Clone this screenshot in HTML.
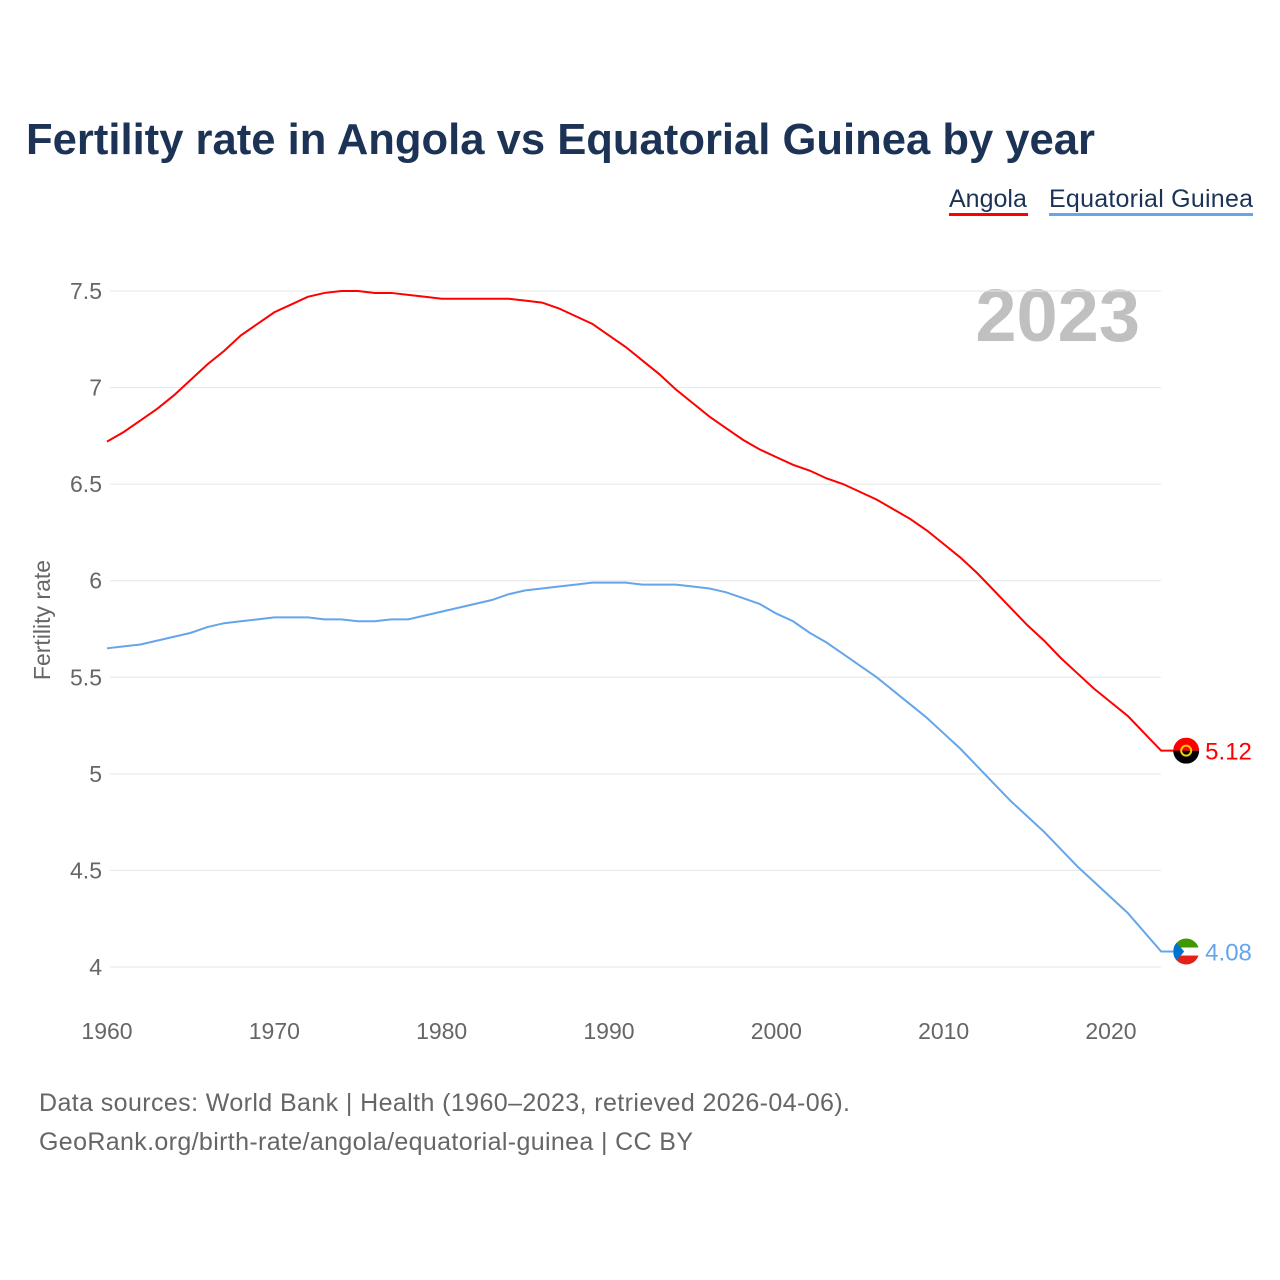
<!DOCTYPE html>
<html><head><meta charset="utf-8"><style>
body{margin:0;background:#fff;font-family:"Liberation Sans",sans-serif;}
#wrap{position:relative;width:1280px;height:1280px;overflow:hidden;}
</style></head><body>
<div id="wrap">
<svg id="chart" width="1280" height="1280" style="font-family:'Liberation Sans',sans-serif">
<text x="26" y="154" font-size="44" font-weight="bold" fill="#1c3356" textLength="1069" lengthAdjust="spacingAndGlyphs">Fertility rate in Angola vs Equatorial Guinea by year</text>
<g><text x="949" y="207" font-size="25" fill="#1c3356">Angola</text><rect x="949" y="213" width="79" height="3" fill="#f00"/></g>
<g><text x="1049" y="207" font-size="25" fill="#1c3356" textLength="204">Equatorial Guinea</text><rect x="1049" y="213" width="204" height="3" fill="#64a5eb"/></g>
<text x="1140" y="341" font-size="74" font-weight="bold" fill="#c0c0c0" text-anchor="end">2023</text>
<text transform="translate(50,620) rotate(-90)" font-size="23" fill="#666" text-anchor="middle">Fertility rate</text>
<g id="grid"></g><g id="lines"></g>
<text x="39" y="1111" font-size="25" fill="#666" textLength="811">Data sources: World Bank | Health (1960–2023, retrieved 2026-04-06).</text>
<text x="39" y="1150" font-size="25" fill="#666" textLength="654">GeoRank.org/birth-rate/angola/equatorial-guinea | CC BY</text>
</svg></div>
<script>
const years=[];for(let y=1960;y<=2023;y++)years.push(y);
const angola=[6.72,6.77,6.83,6.89,6.96,7.04,7.12,7.19,7.27,7.33,7.39,7.43,7.47,7.49,7.50,7.50,7.49,7.49,7.48,7.47,7.46,7.46,7.46,7.46,7.46,7.45,7.44,7.41,7.37,7.33,7.27,7.21,7.14,7.07,6.99,6.92,6.85,6.79,6.73,6.68,6.64,6.60,6.57,6.53,6.50,6.46,6.42,6.37,6.32,6.26,6.19,6.12,6.04,5.95,5.86,5.77,5.69,5.60,5.52,5.44,5.37,5.30,5.21,5.12];
const eqGuinea=[5.65,5.66,5.67,5.69,5.71,5.73,5.76,5.78,5.79,5.80,5.81,5.81,5.81,5.80,5.80,5.79,5.79,5.80,5.80,5.82,5.84,5.86,5.88,5.90,5.93,5.95,5.96,5.97,5.98,5.99,5.99,5.99,5.98,5.98,5.98,5.97,5.96,5.94,5.91,5.88,5.83,5.79,5.73,5.68,5.62,5.56,5.50,5.43,5.36,5.29,5.21,5.13,5.04,4.95,4.86,4.78,4.70,4.61,4.52,4.44,4.36,4.28,4.18,4.08];
const yTicks=[4,4.5,5,5.5,6,6.5,7,7.5];
const xTicks=[1960,1970,1980,1990,2000,2010,2020];
const X=v=>107+(v-1960)*16.733, Y=v=>967-(v-4)*193.14;
const NS='http://www.w3.org/2000/svg';
function mk(t,a,p){const e=document.createElementNS(NS,t);for(const k in a)e.setAttribute(k,a[k]);p.appendChild(e);return e;}
const g=document.getElementById('grid'),L=document.getElementById('lines');
yTicks.forEach(t=>{const l=mk('line',{x1:110,x2:1161,y1:Y(t),y2:Y(t),stroke:'#e6e6e6'},g);


const tx=mk('text',{x:102,y:Y(t)+8,'font-size':23,fill:'#666','text-anchor':'end'},g);tx.textContent=t;

});
xTicks.forEach(t=>{const tx=mk('text',{x:X(t),y:1039,'font-size':23,fill:'#666','text-anchor':'middle'},g);tx.textContent=t;

});
function series(vals,color,name,label,flag){
const pts=vals.map((v,i)=>X(years[i])+','+Y(v));
const last=vals[vals.length-1];
const cx=X(2023)+25, cy=Y(last);
pts.push(cx+','+cy);
const p=mk('polyline',{points:pts.join(' '),fill:'none',stroke:color,'stroke-width':2},L);


const fg=mk('g',{'clip-path':'url(#clip-'+name+')'},L);


const cp=mk('clipPath',{id:'clip-'+name},L);mk('circle',{cx:cx,cy:cy,r:13},cp);
if(flag==='ao'){mk('rect',{x:cx-13,y:cy-13,width:26,height:13,fill:'#f00'},fg);mk('rect',{x:cx-13,y:cy,width:26,height:13,fill:'#000'},fg);mk('circle',{cx:cx,cy:cy,r:5,fill:'none',stroke:'#fc0','stroke-width':2},fg);}
else{mk('rect',{x:cx-13,y:cy-13,width:26,height:9,fill:'#3e9a00'},fg);mk('rect',{x:cx-13,y:cy-4,width:26,height:8,fill:'#fff'},fg);mk('rect',{x:cx-13,y:cy+4,width:26,height:9,fill:'#e32118'},fg);mk('polygon',{points:(cx-13)+','+(cy-13)+' '+(cx-2)+','+cy+' '+(cx-13)+','+(cy+13),fill:'#0073ce'},fg);}
const t=mk('text',{x:cx+19,y:cy+9,'font-size':24,fill:color},L);t.textContent=label;

}
series(angola,'#f00','angola',angola[angola.length-1].toFixed(2),'ao');
series(eqGuinea,'#64a5eb','equatorial-guinea',eqGuinea[eqGuinea.length-1].toFixed(2),'gq');
</script>
</body></html>
